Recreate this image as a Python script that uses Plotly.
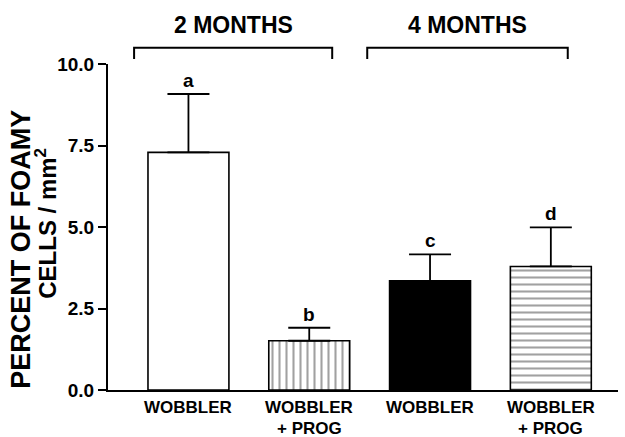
import plotly.graph_objects as go

# Foamy-cell density per group (mean and upper error limit)
groups = [["WOBBLER"], ["WOBBLER", "+ PROG"], ["WOBBLER"], ["WOBBLER", "+ PROG"]]
means = [7.29, 1.51, 3.35, 3.79]
upper = [9.08, 1.91, 4.16, 4.99]
letters = ["a", "b", "c", "d"]
fills = ["white", "white", "black", "white"]
hatches = ["", "|", "", "-"]

# Age brackets over the paired groups: (label, left, right) in category units
periods = [("2 MONTHS", -0.45, 1.19), ("4 MONTHS", 1.48, 3.14)]

FONT = "Liberation Sans, Arial, Helvetica, sans-serif"
xpos = list(range(len(groups)))
err_plus = [u - m for u, m in zip(upper, means)]

fig = go.Figure()
fig.add_trace(go.Bar(
    x=xpos,
    y=means,
    width=0.67,
    marker=dict(
        color=fills,
        line=dict(color="black", width=1.6),
        pattern=dict(shape=hatches, fgcolor="black", fillmode="overlay",
                     size=7, solidity=0.3),
    ),
    error_y=dict(type="data", symmetric=False, array=err_plus,
                 arrayminus=[0] * len(means), color="black",
                 thickness=1.8, width=21),
    hoverinfo="skip",
))

# category labels under the axis, one annotation per line for tight spacing
for x, lines in zip(xpos, groups):
    for k, line in enumerate(lines):
        fig.add_annotation(x=x, y=0, xref="x", yref="paper", text=line,
                           showarrow=False, yanchor="middle", yshift=-17 - 21 * k,
                           borderpad=0,
                           font=dict(family=FONT, size=17, color="black", weight="bold"))

# significance letters above each error bar
for x, top, lab in zip(xpos, upper, letters):
    fig.add_annotation(x=x, y=top, xref="x", yref="y", text=lab,
                       showarrow=False, yanchor="bottom", yshift=1,
                       font=dict(family=FONT, size=19, color="black", weight="bold"))

# brackets and period labels
for lab, x0, x1 in periods:
    fig.add_shape(type="path", xref="x", yref="paper",
                  path=f"M {x0},1.015 L {x0},1.05 L {x1},1.05 L {x1},1.015",
                  line=dict(color="black", width=2))
    fig.add_annotation(x=(x0 + x1) / 2, y=1.12, xref="x", yref="paper",
                       text=lab, showarrow=False, yanchor="middle",
                       font=dict(family=FONT, size=23, color="black", weight="bold"))

# two-line axis title
fig.add_annotation(x=0, y=0.43, xref="paper", yref="paper", xshift=-87,
                   text="PERCENT OF FOAMY", textangle=-90, showarrow=False,
                   xanchor="center", yanchor="middle",
                   font=dict(family=FONT, size=27, color="black", weight="bold"))
fig.add_annotation(x=0, y=0.51, xref="paper", yref="paper", xshift=-62,
                   text="CELLS / mm<sup>2</sup>", textangle=-90, showarrow=False,
                   xanchor="center", yanchor="middle",
                   font=dict(family=FONT, size=24, color="black", weight="bold"))

fig.update_layout(
    width=625, height=437,
    margin=dict(l=108, r=7, t=64, b=47),
    paper_bgcolor="white", plot_bgcolor="white",
    showlegend=False,
    font=dict(family=FONT, color="black", weight="bold"),
    xaxis=dict(
        range=[-0.666, 3.556],
        showticklabels=False,
        showline=True, linecolor="black", linewidth=2,
        ticks="", showgrid=False, zeroline=False, automargin=False,
    ),
    yaxis=dict(
        range=[0, 10],
        tickvals=[0, 2.5, 5, 7.5, 10],
        ticktext=["0.0", "2.5", "5.0", "7.5", "10.0"],
        showline=True, linecolor="black", linewidth=2,
        ticks="outside", ticklen=8, tickwidth=2, tickcolor="black",
        showgrid=False, zeroline=False, automargin=False,
        tickfont=dict(family=FONT, size=19, color="black", weight="bold"),
    ),
)

fig.write_html("out.html")
